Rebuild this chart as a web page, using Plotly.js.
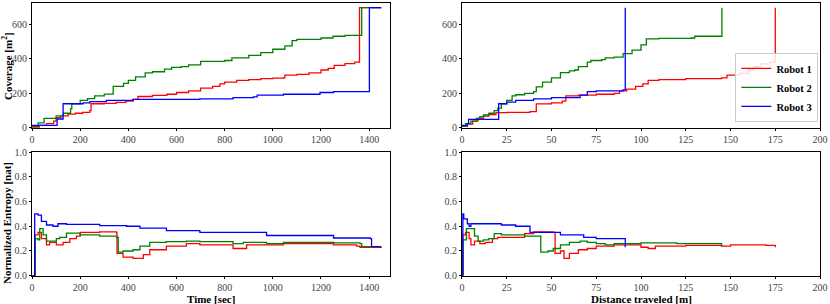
<!DOCTYPE html>
<html><head><meta charset="utf-8">
<script src="https://cdn.plot.ly/plotly-3.0.1.min.js"></script>
<style>html,body{margin:0;padding:0;background:#fff}#c{width:830px;height:304px}</style>
</head><body><div id="c"></div>
<script>
// Coverage vs time
const covTimeR_x = [0,30,60,90,100,120,150,180,210,240,245,300,350,390,420,440,500,560,600,650,700,750,780,800,850,900,950,1000,1044,1050,1100,1150,1200,1230,1255,1300,1340,1360,1450];
const covTimeR_y = [5,15,25,40,60,70,80,85,90,100,140,142,148,155,165,182,188,195,205,215,230,240,255,265,275,280,285,288,290,305,310,318,335,345,362,372,380,695,695];
const covTimeG_x = [0,25,50,100,130,160,165,200,230,260,300,337,380,400,430,470,500,550,580,620,650,700,800,830,900,950,1000,1050,1080,1100,1200,1250,1300,1369,1450];
const covTimeG_y = [10,30,55,70,85,110,140,160,170,185,196,240,258,275,295,318,325,340,350,355,365,385,390,405,420,435,455,475,505,512,520,530,535,695,695];
const covTimeB_x = [0,104,129,212,240,309,420,697,835,919,935,1044,1196,1252,1401,1450];
const covTimeB_y = [15,52,140,145,152,160,165,168,175,180,190,195,205,210,695,695];
// Coverage vs distance
const covDistR_x = [0,3,6,9,12,15,19,25,30,38,41.5,50,56,58,65,75,85,88,92,97,101,104,110,125,145,148,155,160,163,167,172,175];
const covDistR_y = [10,22,40,55,68,78,89,90,90,95,139,145,155,185,190,195,200,215,225,240,255,275,280,285,290,305,315,335,355,370,380,695];
const covDistG_x = [0,2,5,8,10,12,15,18,20,22,25,28,30,35,40,41.5,45,50,55,60,63,65,70,72,78,80,85,90,95,100,103,110,128,130,145.2];
const covDistG_y = [10,25,40,55,65,75,85,100,115,140,160,185,192,200,210,238,265,290,320,330,335,355,380,390,395,405,410,430,450,480,515,518,520,530,695];
const covDistB_x = [0,3,3.7,20.5,25,30,40,50,60,66,70,75,90,91.2];
const covDistB_y = [15,25,50,140,150,160,168,175,175,190,210,215,220,695];
// Entropy vs time
const entTimeR_x = [0,13,25,39,60,73,101,129,157,184,200,281,351,353,378,420,462,489,558,641,697,835,891,1044,1252,1348,1362,1450];
const entTimeR_y = [0,0.33,0.35,0.30,0.25,0.27,0.25,0.27,0.30,0.32,0.35,0.355,0.345,0.18,0.15,0.14,0.17,0.21,0.24,0.26,0.25,0.22,0.25,0.26,0.25,0.24,0.23,0.235];
const entTimeG_x = [0,13,25,32,46,60,87,101,115,143,200,281,351,358,378,420,448,489,558,641,697,835,877,974,1044,1252,1362,1369,1450];
const entTimeG_y = [0,0.30,0.29,0.38,0.33,0.28,0.28,0.30,0.31,0.345,0.33,0.32,0.31,0.19,0.20,0.21,0.24,0.27,0.275,0.28,0.275,0.26,0.27,0.26,0.27,0.265,0.26,0.235,0.235];
const entTimeB_x = [0,11,25,39,60,87,108,143,281,392,448,558,697,974,1252,1404,1410,1450];
const entTimeB_y = [0,0.50,0.49,0.44,0.41,0.40,0.42,0.415,0.405,0.40,0.385,0.365,0.35,0.325,0.305,0.30,0.235,0.235];
// Entropy vs distance
const entDistR_x = [0,0.5,2,4,5,7,10,13,17,20,30,35,40,51,52,55,57,60,65,70,75,85,90,100,104,108,125,145,150,165,170,175];
const entDistR_y = [0,0.33,0.35,0.30,0.25,0.28,0.26,0.27,0.30,0.31,0.31,0.34,0.355,0.35,0.18,0.20,0.14,0.18,0.21,0.22,0.24,0.25,0.25,0.23,0.22,0.24,0.245,0.24,0.25,0.25,0.245,0.23];
const entDistG_x = [0,0.5,2.5,6,7,9,12,15,18,22,32,35,43.5,44,48,51,55,60,66,70,75,80,85,100,120,145];
const entDistG_y = [0,0.29,0.38,0.38,0.32,0.28,0.29,0.30,0.34,0.33,0.33,0.32,0.32,0.19,0.20,0.22,0.25,0.27,0.28,0.27,0.26,0.25,0.26,0.265,0.26,0.235];
const entDistB_x = [0,0.5,1,1.5,3,4,5,20,22,30,38,52,55,67,68,75,91,91.2];
const entDistB_y = [0,0.5,0.46,0.46,0.42,0.40,0.42,0.42,0.41,0.40,0.35,0.35,0.33,0.33,0.31,0.30,0.30,0.23];

const names = ['Robot 1','Robot 2','Robot 3'];
const colors = ['#ff0000','#008000','#0000ff'];
const sets = [
  {xs:[covTimeR_x,covTimeG_x,covTimeB_x], ys:[covTimeR_y,covTimeG_y,covTimeB_y], xa:'x', ya:'y', leg:false},
  {xs:[covDistR_x,covDistG_x,covDistB_x], ys:[covDistR_y,covDistG_y,covDistB_y], xa:'x2', ya:'y2', leg:true},
  {xs:[entTimeR_x,entTimeG_x,entTimeB_x], ys:[entTimeR_y,entTimeG_y,entTimeB_y], xa:'x3', ya:'y3', leg:false},
  {xs:[entDistR_x,entDistG_x,entDistB_x], ys:[entDistR_y,entDistG_y,entDistB_y], xa:'x4', ya:'y4', leg:false}
];
const traces = [];
sets.forEach(s=>{
  for(let i=0;i<3;i++){
    traces.push({x:s.xs[i], y:s.ys[i], xaxis:s.xa, yaxis:s.ya, type:'scatter', mode:'lines',
      line:{color:colors[i], width:1.3, shape:'hv'}, name:names[i], showlegend:s.leg, hoverinfo:'skip'});
  }
});
const serif = '"Liberation Serif","DejaVu Serif",serif';
const font = {family:serif, size:10, color:'#444'};
function ax(extra){
  return Object.assign({showline:true, mirror:true, linecolor:'#000', linewidth:1, ticks:'outside', ticklen:2, tickcolor:'#000',
    showgrid:false, zeroline:false, tickfont:font, fixedrange:true, automargin:false}, extra);
}
const tf = {family:serif, size:11, color:'#000', weight:'bold'};
const W=830, H=304;
function ann(text, px, py, rot){
  return {text:text, x:px/W, y:1-py/H, xref:'paper', yref:'paper', showarrow:false, textangle:rot||0,
    xanchor:'center', yanchor:'middle', font:tf};
}
const xt1 = [0,200,400,600,800,1000,1200,1400];
const xt2 = [0,25,50,75,100,125,150,175,200];
const yt1 = [0,200,400,600];
const yt2 = [0,0.2,0.4,0.6,0.8,1.0];
const layout = {
  width:W, height:H, margin:{l:0,r:0,t:0,b:0}, paper_bgcolor:'#fff', plot_bgcolor:'#fff', showlegend:true,
  xaxis: ax({domain:[0.0386,0.470], range:[0,1487], tickvals:xt1, anchor:'y'}),
  yaxis: ax({domain:[0.579,0.990], range:[0,722], tickvals:yt1, anchor:'x'}),
  xaxis2: ax({domain:[0.5566,0.988], range:[0,200], tickvals:xt2, anchor:'y2'}),
  yaxis2: ax({domain:[0.579,0.990], range:[0,722], tickvals:yt1, anchor:'x2'}),
  xaxis3: ax({domain:[0.0386,0.470], range:[0,1487], tickvals:xt1, anchor:'y3'}),
  yaxis3: ax({domain:[0.093,0.5], range:[0,1], tickvals:yt2, tickformat:'.1f', anchor:'x3'}),
  xaxis4: ax({domain:[0.5566,0.988], range:[0,200], tickvals:xt2, anchor:'y4'}),
  yaxis4: ax({domain:[0.093,0.5], range:[0,1], tickvals:yt2, tickformat:'.1f', anchor:'x4'}),
  annotations:[
    ann('Coverage [m<sup>2</sup>]', 7, 66, -90),
    ann('Normalized Entropy [nat]', 7, 223, -90),
    ann('Time [sec]', 211, 298.5, 0),
    ann('Distance traveled [m]', 641, 298.5, 0)
  ],
  legend:{x:0.986, xanchor:'right', y:0.599, yanchor:'bottom', bgcolor:'rgba(255,255,255,0.85)', bordercolor:'#ccc', borderwidth:1,
    font:{family:serif, size:10.5, color:'#000', weight:'bold'}, tracegroupgap:0, itemwidth:30}
};
Plotly.newPlot('c', traces, layout, {displayModeBar:false, staticPlot:true});
</script></body></html>
